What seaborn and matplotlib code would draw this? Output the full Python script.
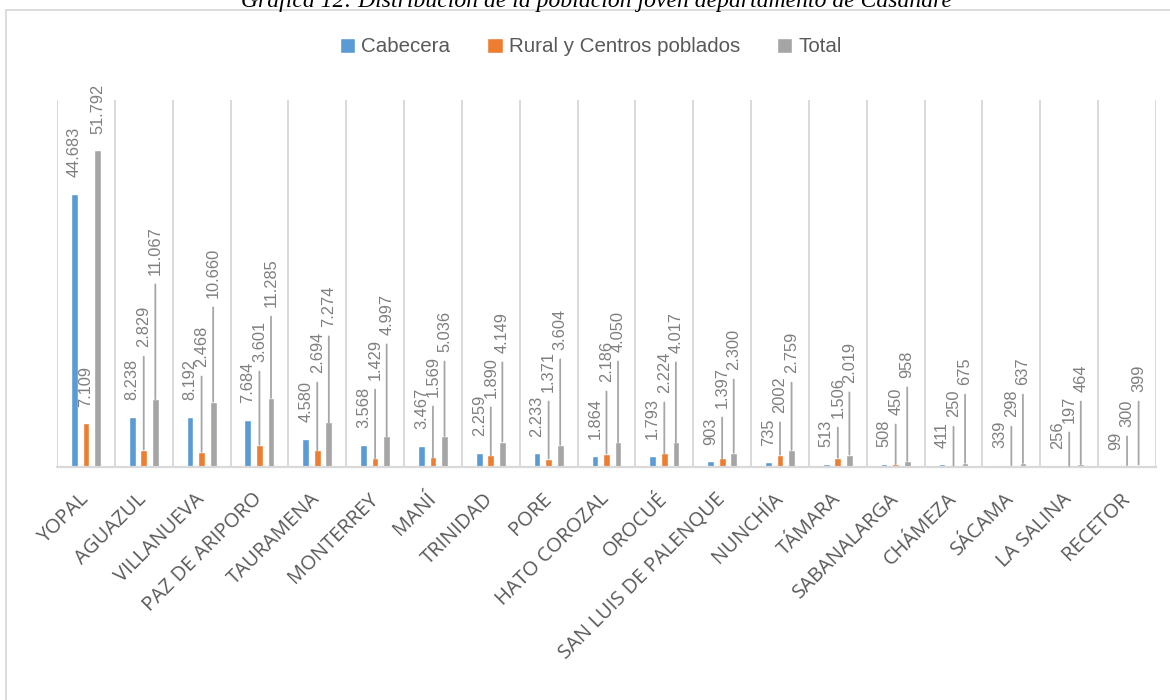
#!/usr/bin/env python3
"""Gráfica 12: población joven por municipio de Casanare (barras agrupadas estilo Excel)."""

import matplotlib as mpl
import matplotlib.pyplot as plt
import numpy as np
import pandas as pd
import seaborn as sns
from matplotlib.patches import Patch, Rectangle

# ---------------------------------------------------------------------------
# Datos
# ---------------------------------------------------------------------------
TITLE = "Gráfica 12: Distribución de la población joven departamento de Casanare"

MUNICIPIOS = [
    "YOPAL", "AGUAZUL", "VILLANUEVA", "PAZ DE ARIPORO", "TAURAMENA",
    "MONTERREY", "MANÍ", "TRINIDAD", "PORE", "HATO COROZAL", "OROCUÉ",
    "SAN LUIS DE PALENQUE", "NUNCHÍA", "TÁMARA", "SABANALARGA", "CHÁMEZA",
    "SÁCAMA", "LA SALINA", "RECETOR",
]
SERIES = ["Cabecera", "Rural y Centros poblados", "Total"]

CABECERA = [44683, 8238, 8192, 7684, 4580, 3568, 3467, 2259, 2233, 1864,
            1793, 903, 735, 513, 508, 411, 339, 256, 99]
RURAL = [7109, 2829, 2468, 3601, 2694, 1429, 1569, 1890, 1371, 2186,
         2224, 1397, 2002, 1506, 450, 250, 298, 197, 300]
TOTAL = [51792, 11067, 10660, 11285, 7274, 4997, 5036, 4149, 3604, 4050,
         4017, 2300, 2759, 2019, 958, 675, 637, 464, 399]

# etiqueta escrita sin separador de miles en el original
LABEL_OVERRIDE = {("Rural y Centros poblados", "NUNCHÍA"): "2002"}

# ---------------------------------------------------------------------------
# Layout: altura (en unidades del eje) donde se movieron las etiquetas a mano.
# None = etiqueta estándar justo encima de la barra.
# ---------------------------------------------------------------------------
CABECERA_LABEL_Y = [None] * len(MUNICIPIOS)
RURAL_LABEL_Y = [None, 19600, 16350, 17150, 15350, 14200, 11450, 11300, 12250,
                 13900, 12100, 9650, 8850, 8000, 8500, 8150, 8150, 7200, 6550]
TOTAL_LABEL_Y = [None, 31400, 27650, 26150, 22900, 21600, 18800, 18650, 19150,
                 18800, 18650, 15850, 15350, 13750, 14550, 13400, 13400, 12250,
                 12250]

COLORS = ["#5B9BD5", "#ED7D31", "#A5A5A5"]
GRID = "#D9D9D9"
TEXT = "#595959"
LABEL = "#7F7F7F"
LEADER = "#A6A6A6"


def fmt(v: int) -> str:
    return f"{v:,}".replace(",", ".")


def main() -> None:
    sns.set_theme(style="white")
    mpl.rcParams["font.family"] = ["Liberation Sans", "DejaVu Sans"]

    n = len(MUNICIPIOS)
    df = pd.DataFrame(
        {
            "municipio": MUNICIPIOS * 3,
            "serie": np.repeat(SERIES, n),
            "valor": CABECERA + RURAL + TOTAL,
        }
    )

    fig = plt.figure(figsize=(11.7, 7.0), dpi=100, facecolor="white")
    ax = fig.add_axes([0.0487, 0.3329, 0.9393, 0.5243])

    sns.barplot(
        data=df, x="municipio", y="valor", hue="serie",
        order=MUNICIPIOS, hue_order=SERIES, palette=COLORS,
        width=0.6, gap=0.42, saturation=1, errorbar=None,
        legend=False, ax=ax,
    )

    ax.set_ylim(0, 60000)
    ax.set_xlim(-0.5, n - 0.5)
    ax.set_yticks([])
    ax.set_xlabel("")
    ax.set_ylabel("")

    # separadores verticales entre categorías
    ax.set_xticks(np.arange(n + 1) - 0.5, minor=True)
    ax.grid(True, which="minor", axis="x", color=GRID, lw=1.4)
    ax.grid(False, which="major")
    ax.tick_params(which="both", length=0)
    ax.tick_params(axis="x", which="major", pad=21)
    for side in ("left", "right", "top"):
        ax.spines[side].set_visible(False)
    ax.spines["bottom"].set_color(GRID)
    ax.spines["bottom"].set_linewidth(1.6)

    ax.set_xticks(range(n))
    ax.set_xticklabels(
        MUNICIPIOS, rotation=45, ha="right", va="center",
        rotation_mode="anchor", fontsize=14.5, color=TEXT,
        family=["Open Sans", "DejaVu Sans"],
    )

    # etiquetas de datos con líneas guía
    vals = [CABECERA, RURAL, TOTAL]
    label_ys = [CABECERA_LABEL_Y, RURAL_LABEL_Y, TOTAL_LABEL_Y]
    for container, serie, sv, lys in zip(ax.containers, SERIES, vals, label_ys):
        for bar, muni, v, ly in zip(container, MUNICIPIOS, sv, lys):
            x = bar.get_x() + bar.get_width() / 2
            txt = LABEL_OVERRIDE.get((serie, muni), fmt(v))
            if ly is None:
                ax.annotate(
                    txt, xy=(x, v), xytext=(0, 12), textcoords="offset points",
                    rotation=90, ha="center", va="bottom",
                    fontsize=11.8, color=LABEL,
                )
            else:
                ax.annotate(
                    txt, xy=(x, v), xytext=(x, ly), textcoords="data",
                    rotation=90, ha="center", va="bottom",
                    fontsize=11.8, color=LABEL,
                    arrowprops=dict(arrowstyle="-", color=LEADER, lw=1.3,
                                    shrinkA=4.5, shrinkB=0),
                )

    handles = [Patch(facecolor=c, label=s) for c, s in zip(COLORS, SERIES)]
    fig.legend(
        handles=handles, loc="center", bbox_to_anchor=(0.505, 0.933),
        ncol=3, frameon=False, fontsize=14.8, handlelength=0.75,
        handleheight=0.75, handletextpad=0.3, columnspacing=1.8,
        labelcolor=TEXT,
    )

    fig.text(
        0.51, 1 - 7 / 700, TITLE, ha="center", va="baseline",
        family="Liberation Serif", style="italic", fontsize=17, color="black",
    )

    # marco del gráfico (se sale por la derecha y por abajo)
    fig.add_artist(
        Rectangle((6 / 1170, -0.1), 1.2, 1.1 - 10 / 700, fill=False,
                  edgecolor=GRID, lw=1.3, transform=fig.transFigure)
    )

    fig.savefig("out.png", dpi=100, facecolor="white")
    plt.close(fig)


if __name__ == "__main__":
    main()
